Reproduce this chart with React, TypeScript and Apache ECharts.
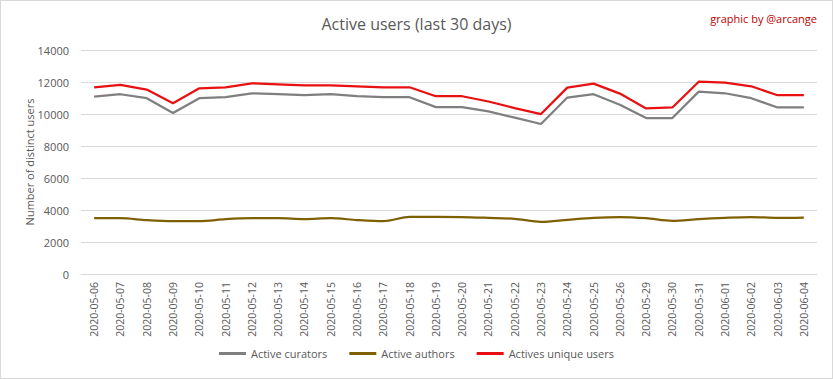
import React, { useEffect, useRef } from "react";
import * as echarts from "echarts";

const categories = [
  "2020-05-06", "2020-05-07", "2020-05-08", "2020-05-09", "2020-05-10", "2020-05-11", "2020-05-12",
  "2020-05-13", "2020-05-14", "2020-05-15", "2020-05-16", "2020-05-17", "2020-05-18", "2020-05-19",
  "2020-05-20", "2020-05-21", "2020-05-22", "2020-05-23", "2020-05-24", "2020-05-25", "2020-05-26",
  "2020-05-29", "2020-05-30", "2020-05-31", "2020-06-01", "2020-06-02", "2020-06-03", "2020-06-04",
];

const activeCurators = [
  11090, 11235, 10986, 10056, 10986, 11048, 11296, 11235, 11173, 11235, 11110, 11048, 11048, 10428,
  10428, 10161, 9770, 9376, 11028, 11235, 10574, 9749, 9749, 11400, 11296, 10986, 10409, 10409,
];

const activeAuthors = [
  3488, 3490, 3366, 3300, 3300, 3430, 3490, 3490, 3430, 3490, 3370, 3300, 3573, 3573,
  3560, 3510, 3450, 3263, 3386, 3510, 3560, 3490, 3325, 3430, 3510, 3560, 3510, 3530,
];

const activeUnique = [
  11670, 11815, 11524, 10676, 11605, 11670, 11917, 11855, 11793, 11793, 11731, 11670, 11670, 11110,
  11110, 10780, 10367, 9996, 11648, 11896, 11276, 10346, 10409, 12020, 11958, 11731, 11173, 11173,
];

const FONT = "Open Sans";

export default function App() {
  const ref = useRef<HTMLDivElement>(null);
  useEffect(() => {
    document.body.style.margin = "0";
    if (!ref.current) return;
    const chart = echarts.init(ref.current, null, { renderer: "svg" });
    chart.setOption({
      animation: false,
      backgroundColor: "#ffffff",
      textStyle: { fontFamily: FONT },
      title: [
        {
          text: "Active users (last 30 days)",
          left: "center",
          top: 10,
          textStyle: { fontFamily: FONT, fontSize: 16, fontWeight: "normal", color: "#595959" },
        },
        {
          text: "graphic by @arcange",
          right: 10,
          top: 7,
          textStyle: { fontFamily: FONT, fontSize: 11, fontWeight: "normal", color: "#c00000" },
        },
      ],
      legend: {
        bottom: 14,
        left: "center",
        icon: "rect",
        itemWidth: 27,
        itemHeight: 3,
        itemGap: 22,
        textStyle: { fontFamily: FONT, fontSize: 11, color: "#595959" },
        data: ["Active curators", "Active authors", "Actives unique users"],
      },
      grid: { left: 80, right: 15, top: 49, bottom: 104, containLabel: false },
      xAxis: {
        type: "category",
        data: categories,
        boundaryGap: true,
        axisLine: { show: true, lineStyle: { color: "#d9d9d9" } },
        axisTick: { show: false },
        axisLabel: {
          rotate: 90,
          interval: 0,
          fontFamily: FONT,
          fontSize: 10.5,
          color: "#595959",
          margin: 8,
        },
      },
      yAxis: {
        type: "value",
        min: 0,
        max: 14000,
        interval: 2000,
        name: "Number of distinct users",
        nameLocation: "middle",
        nameGap: 46,
        nameMoveOverlap: false,
        nameTextStyle: { fontFamily: FONT, fontSize: 11, color: "#595959" },
        axisLine: { show: false },
        axisTick: { show: false },
        axisLabel: {
          fontFamily: FONT,
          fontSize: 11,
          color: "#595959",
          margin: 12,
          formatter: (v: number) => String(v),
        },
        splitLine: { lineStyle: { color: "#d9d9d9", width: 1 } },
      },
      series: [
        {
          name: "Active curators",
          type: "line",
          data: activeCurators,
          showSymbol: false,
          symbol: "none",
          lineStyle: { color: "#7f7f7f", width: 2.25 },
          itemStyle: { color: "#7f7f7f" },
        },
        {
          name: "Active authors",
          type: "line",
          data: activeAuthors,
          smooth: 0.3,
          showSymbol: false,
          symbol: "none",
          lineStyle: { color: "#7f6000", width: 2.25 },
          itemStyle: { color: "#7f6000" },
        },
        {
          name: "Actives unique users",
          type: "line",
          data: activeUnique,
          showSymbol: false,
          symbol: "none",
          lineStyle: { color: "#e81010", width: 2.25 },
          itemStyle: { color: "#e81010" },
        },
      ],
    });
    return () => chart.dispose();
  }, []);
  return (
    <div
      ref={ref}
      style={{ width: 831, height: 377, border: "1px solid #d9d9d9", background: "#fff" }}
    />
  );
}
